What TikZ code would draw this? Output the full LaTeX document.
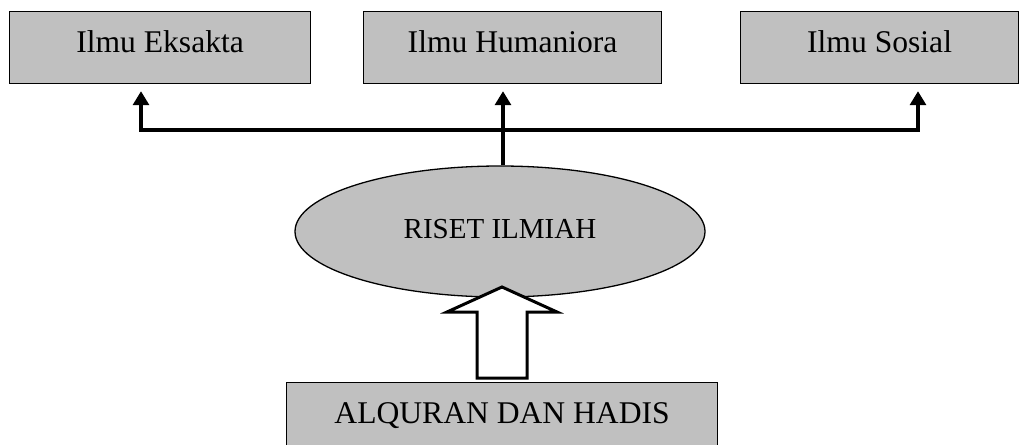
\documentclass[tikz,border=0pt]{standalone}
\usepackage{fontspec}
\setmainfont{Liberation Serif}
\usetikzlibrary{arrows.meta, shapes.geometric}
\definecolor{boxgray}{RGB}{192,192,192}
\tikzset{
  topbox/.style = {draw, fill=boxgray, line width=0.6pt, anchor=north west, inner sep=0pt, text height=20.5pt, text depth=15.5pt, font=\fontsize{15.8}{19}\selectfont},
  oval/.style = {draw, ellipse, fill=boxgray, line width=0.65pt, inner sep=0pt, minimum width=205pt, minimum height=65.5pt, text height=10pt, text depth=3.5pt, font=\fontsize{14.5}{17}\selectfont},
  link/.style = {line width=1.6pt, -{Triangle[length=7pt,width=8pt]}, shorten >=3.5pt},
  hollow/.style = {draw, fill=white, line width=1.5pt}
}

\begin{document}
\begin{tikzpicture}[x=0.5pt, y=-0.5pt]
\useasboundingbox (0,0) rectangle (1019,445);
\node[topbox, minimum width=150.5pt] (eksakta) at (9,11) {Ilmu Eksakta};
\node[topbox, minimum width=149pt] (humaniora) at (363,11) {Ilmu Humaniora};
\node[topbox, minimum width=139pt] (sosial) at (740,11) {Ilmu Sosial};
\node[oval] (riset) at (500,231.5) {RISET ILMIAH};
\node[topbox, minimum width=215.5pt] (sumber) at (286,382) {ALQURAN DAN HADIS};
\coordinate (hub) at (503,130);
\coordinate (kiri) at (141,130);
\coordinate (kanan) at (918,130);
\draw[link] (hub |- riset.north) -- (hub |- humaniora.south);
\draw[link] (hub) -| (kiri |- eksakta.south);
\draw[link] (hub) -| (kanan |- sosial.south);
% panah besar dari sumber ke riset
\coordinate (tip) at (502,287);
\draw[hollow] (tip) -- ++(55,25) -- ++(-30,0) -- ++(0,66) -- ++(-50,0) -- ++(0,-66) -- ++(-30,0) -- cycle;
\end{tikzpicture}
\end{document}
